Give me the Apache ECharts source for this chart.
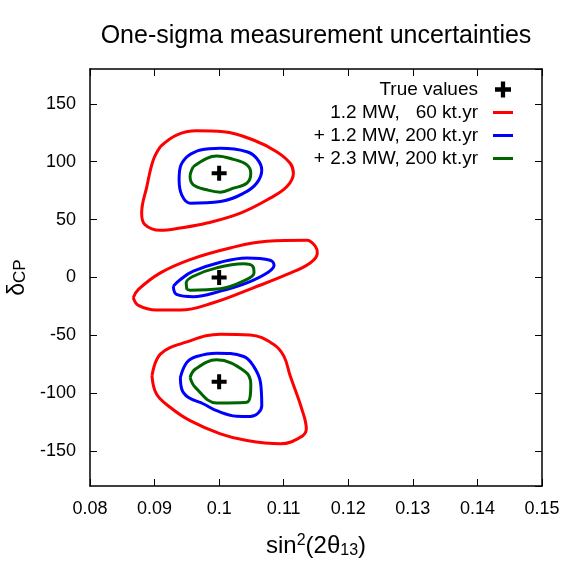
<!DOCTYPE html>
<html>
<head>
<meta charset="utf-8">
<script src="https://cdn.jsdelivr.net/npm/echarts@6/dist/echarts.min.js"></script>
<style>
  html, body { margin: 0; padding: 0; background: #fff; }
  #chart { width: 581px; height: 584px; }
</style>
</head>
<body>
<div id="chart"></div>
<script>
// true parameter values
const trueValues = [[0.1, 90], [0.1, 0], [0.1, -90]];

// 1.2 MW, 60 kt.yr contours (red)
const redTop = [[0.0909, 113], [0.0934, 123], [0.0965, 126.7], [0.1007, 125.8], [0.1053, 118.7], [0.1089, 108.6], [0.1110, 98.6], [0.1115, 90], [0.1105, 78.5], [0.1079, 68.5], [0.1033, 55.6], [0.0981, 47], [0.0940, 42.7], [0.0909, 40.7], [0.0885, 45.6], [0.0880, 55.6], [0.0888, 78.5], [0.0898, 101.5]];
const redMid = [[0.0867, -17.5], [0.0875, -10.3], [0.0909, 4], [0.0955, 15.5], [0.1017, 25.5], [0.1074, 31.2], [0.1136, 32.1], [0.1149, 26.9], [0.1152, 21.2], [0.1141, 12.6], [0.1105, 2.6], [0.1053, -8.9], [0.0991, -21.8], [0.0940, -28.1], [0.0903, -28.1], [0.0875, -24.1]];
const redBot = [[0.0896, -84.9], [0.0909, -66.2], [0.0950, -55.6], [0.1002, -49], [0.1048, -49.6], [0.1084, -57.6], [0.1100, -67.7], [0.1110, -84.9], [0.1128, -113.5], [0.1135, -130.7], [0.1126, -137.8], [0.1095, -143.6], [0.1043, -140.8], [0.1002, -135], [0.0955, -123.6], [0.0924, -112], [0.0903, -100.6]];

// + 1.2 MW, 200 kt.yr contours (blue)
const blueTop = [[0.0950, 104.3], [0.0971, 110], [0.1002, 111.5], [0.1043, 108.6], [0.1058, 102.9], [0.1066, 92.9], [0.1058, 81.4], [0.1038, 72.8], [0.1002, 65.6], [0.0955, 64.2], [0.0942, 71.4], [0.0938, 84.3], [0.0940, 95.7]];
const blueMid = [[0.0929, -7.5], [0.0940, -1.7], [0.0960, 5.4], [0.1002, 13.2], [0.1043, 16.9], [0.1079, 14.9], [0.1085, 10.6], [0.1076, 4.6], [0.1043, -4.6], [0.1002, -11.8], [0.0960, -16.6], [0.0934, -14.6]];
const blueBot = [[0.0940, -86.2], [0.0950, -73.3], [0.0965, -68.2], [0.0996, -65.3], [0.1038, -68.2], [0.1053, -76.3], [0.1064, -90.5], [0.1066, -110.7], [0.1048, -120.1], [0.1027, -119.8], [0.0996, -115], [0.0976, -109.2], [0.0952, -103.4], [0.0942, -96.3]];

// + 2.3 MW, 200 kt.yr contours (green)
const greenTop = [[0.0960, 95.7], [0.0981, 102.9], [0.0996, 104.9], [0.1022, 102], [0.1043, 97.2], [0.1049, 90], [0.1043, 81.4], [0.1022, 77.1], [0.1002, 73.7], [0.0981, 75.7], [0.0960, 80], [0.0955, 87.1]];
const greenMid = [[0.0950, -10.3], [0.0949, -4.6], [0.0960, 1.1], [0.0996, 8.3], [0.1038, 11.8], [0.1052, 9.7], [0.1054, 4], [0.1043, -1.7], [0.1002, -9.7], [0.0955, -10.9]];
const greenBot = [[0.0955, -86.2], [0.0963, -79.1], [0.0996, -71.1], [0.1040, -81.1], [0.1049, -92], [0.1043, -107.7], [0.0996, -108.3], [0.0963, -94.8]];

const xTicks = [0.08, 0.15, 0.01];   // min, max, step
const yRange = [-180, 180];

const names = ['True values', '1.2 MW,   60 kt.yr', '+ 1.2 MW, 200 kt.yr', '+ 2.3 MW, 200 kt.yr'];

const FONT = '"Liberation Sans", Arial, Helvetica, sans-serif';
const PLUS = 'path://M-1.6,-6 L1.6,-6 L1.6,-1.6 L6,-1.6 L6,1.6 L1.6,1.6 L1.6,6 L-1.6,6 L-1.6,1.6 L-6,1.6 L-6,-1.6 L-1.6,-1.6 Z';
const BAR = 'path://M0,0 L20,0 L20,3 L0,3 Z';

const closeLoop = pts => pts.concat([pts[0]]);

function contour(name, color, pts) {
  return {
    name: name,
    type: 'line',
    data: closeLoop(pts),
    symbol: 'none',
    smooth: 0.4,
    lineStyle: { color: color, width: 3 },
    itemStyle: { color: color },
    z: 2
  };
}

const chart = echarts.init(document.getElementById('chart'));

const axisLine = { show: true, onZero: false, lineStyle: { color: '#000', width: 1.5 } };
const axisTick = { show: true, inside: true, length: 7, lineStyle: { color: '#000', width: 1 } };

chart.setOption({
  animation: false,
  backgroundColor: '#fff',
  title: {
    text: 'One-sigma measurement uncertainties',
    left: 311,
    textAlign: 'center',
    top: 19,
    textStyle: { fontFamily: FONT, fontSize: 25, fontWeight: 'normal', color: '#000' }
  },
  grid: { left: 90, right: 39, top: 69, bottom: 98, outerBoundsMode: 'none' },
  legend: {
    orient: 'vertical',
    align: 'right',
    right: 68,
    top: 78,
    padding: 0,
    itemGap: 0,
    itemWidth: 20,
    itemHeight: 16,
    selectedMode: false,
    data: [
      { name: names[0], icon: PLUS },
      { name: names[1], icon: BAR },
      { name: names[2], icon: BAR },
      { name: names[3], icon: BAR }
    ],
    textStyle: { fontFamily: FONT, fontSize: 19, color: '#000', lineHeight: 23, padding: [0, 10, 0, 0] }
  },
  xAxis: [
    {
      type: 'value',
      min: xTicks[0], max: xTicks[1], interval: xTicks[2],
      name: 'sin{sup|2}(2θ{sub|13})',
      nameLocation: 'middle',
      nameGap: 47,
      nameTextStyle: {
        fontFamily: FONT, fontSize: 24, color: '#000',
        rich: {
          sup: { fontFamily: FONT, fontSize: 16, verticalAlign: 'top', color: '#000', padding: [0, 0, 10, 0] },
          sub: { fontFamily: FONT, fontSize: 16, verticalAlign: 'bottom', color: '#000', padding: [10, 0, 0, 0] }
        }
      },
      axisLine: axisLine,
      axisTick: axisTick,
      splitLine: { show: false },
      axisLabel: {
        fontFamily: FONT, fontSize: 18, color: '#000', margin: 14,
        formatter: v => String(+v.toFixed(2))
      }
    },
    {
      type: 'value',
      position: 'top',
      min: xTicks[0], max: xTicks[1], interval: xTicks[2],
      axisLine: axisLine,
      axisTick: axisTick,
      splitLine: { show: false },
      axisLabel: { show: false }
    }
  ],
  yAxis: [
    {
      type: 'value',
      min: yRange[0], max: yRange[1], splitNumber: 7,
      name: 'δ{sub|CP}',
      nameLocation: 'middle',
      nameRotate: 90,
      nameGap: 46,
      nameTextStyle: {
        fontFamily: FONT, fontSize: 23, color: '#000',
        rich: {
          sub: { fontFamily: FONT, fontSize: 17, verticalAlign: 'bottom', color: '#000', padding: [5, 0, 0, 0] }
        }
      },
      axisLine: axisLine,
      axisTick: axisTick,
      splitLine: { show: false },
      axisLabel: {
        fontFamily: FONT, fontSize: 18, color: '#000', margin: 14,
        showMinLabel: false, showMaxLabel: false
      }
    },
    {
      type: 'value',
      position: 'right',
      min: yRange[0], max: yRange[1], splitNumber: 7,
      axisLine: axisLine,
      axisTick: axisTick,
      splitLine: { show: false },
      axisLabel: { show: false }
    }
  ],
  series: [
    contour(names[1], '#ff0000', redTop),
    contour(names[1], '#ff0000', redMid),
    contour(names[1], '#ff0000', redBot),
    contour(names[2], '#0000ff', blueTop),
    contour(names[2], '#0000ff', blueMid),
    contour(names[2], '#0000ff', blueBot),
    contour(names[3], '#006400', greenTop),
    contour(names[3], '#006400', greenMid),
    contour(names[3], '#006400', greenBot),
    {
      name: names[0],
      type: 'scatter',
      data: trueValues,
      symbol: PLUS,
      symbolSize: 15,
      symbolKeepAspect: true,
      itemStyle: { color: '#000', opacity: 1 },
      z: 5
    }
  ]
});
</script>
</body>
</html>
